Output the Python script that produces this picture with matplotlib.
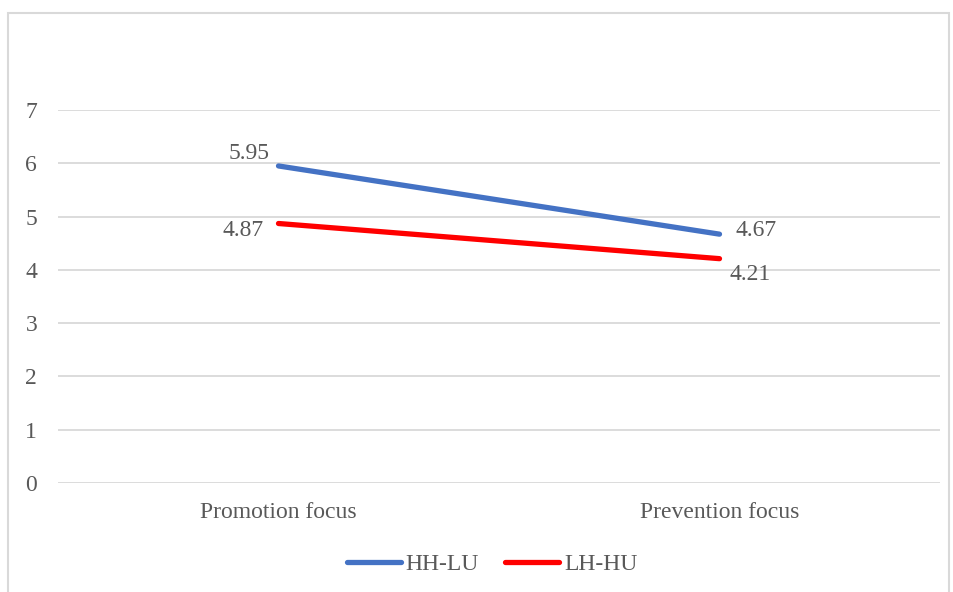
import matplotlib.pyplot as plt
from matplotlib.patches import Rectangle

categories = ["Promotion focus", "Prevention focus"]
hh_lu = [5.95, 4.67]
lh_hu = [4.87, 4.21]
y_ticks = [0, 1, 2, 3, 4, 5, 6, 7]

text_color = "#595959"
grid_color = "#D9D9D9"
blue = "#4472C4"
red = "#FF0000"

plt.rcParams["font.family"] = ["Liberation Serif", "DejaVu Serif"]
plt.rcParams["font.size"] = 17

fig = plt.figure(figsize=(9.54, 5.92), dpi=100)
ax = fig.add_axes([58 / 954, 1 - 483 / 592, (940 - 58) / 954, (483 - 110) / 592])

x = list(range(len(categories)))
ax.plot(x, hh_lu, color=blue, lw=3.8, solid_capstyle="round", label="HH-LU")
ax.plot(x, lh_hu, color=red, lw=3.8, solid_capstyle="round", label="LH-HU")

# value labels next to each point
ann = dict(textcoords="offset pixels", color=text_color, fontsize=17)
ax.annotate(f"{hh_lu[0]:.2f}", (x[0], hh_lu[0]), xytext=(-9, 12), ha="right", va="center", **ann)
ax.annotate(f"{lh_hu[0]:.2f}", (x[0], lh_hu[0]), xytext=(-15, -7), ha="right", va="center", **ann)
ax.annotate(f"{hh_lu[1]:.2f}", (x[1], hh_lu[1]), xytext=(16, 4), ha="left", va="center", **ann)
ax.annotate(f"{lh_hu[1]:.2f}", (x[1], lh_hu[1]), xytext=(31, -16), ha="center", va="center", **ann)

ax.set_xlim(-0.5, 1.5)
ax.set_ylim(0, 7)
ax.set_xticks(x)
ax.set_xticklabels(categories)
ax.set_yticks(y_ticks)
ax.tick_params(axis="both", length=0, colors=text_color, labelsize=17)
ax.tick_params(axis="y", pad=15)
ax.tick_params(axis="x", pad=14)
for s in ax.spines.values():
    s.set_visible(False)
ax.yaxis.grid(True, color=grid_color, lw=1.3)
ax.set_axisbelow(True)
ax.set_clip_on(False)

fig.legend(loc="center", bbox_to_anchor=(492 / 954, 1 - 564 / 592), ncol=2, frameon=False,
           handlelength=2.3, handletextpad=0.2, columnspacing=1.1, labelcolor=text_color,
           fontsize=17)

# chart area border
fig.patches.append(Rectangle((8.5 / 954, -0.05), 941 / 954, 1.05 - 13.5 / 592,
                             transform=fig.transFigure, fill=False, ec=grid_color, lw=1.5))

fig.savefig("out.png", dpi=100)
